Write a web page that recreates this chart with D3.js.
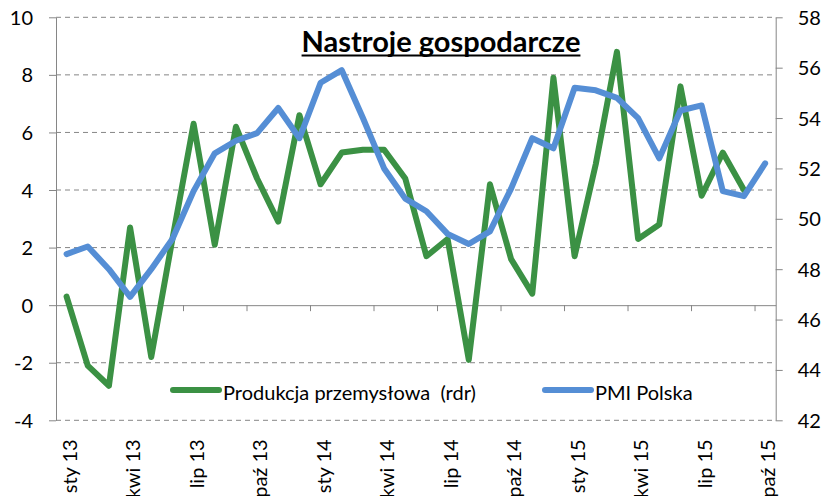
<!DOCTYPE html>
<html>
<head>
<meta charset="utf-8">
<script src="https://cdn.jsdelivr.net/npm/d3@7"></script>
<style>
  body { margin: 0; background: #fff; }
  svg { display: block; font-family: Lato, "Open Sans", sans-serif; }
</style>
</head>
<body>
<div id="chart"></div>
<script>
const months = [
  "sty 13", "lut 13", "mar 13", "kwi 13", "maj 13", "cze 13", "lip 13", "sie 13", "wrz 13", "paź 13", "lis 13", "gru 13",
  "sty 14", "lut 14", "mar 14", "kwi 14", "maj 14", "cze 14", "lip 14", "sie 14", "wrz 14", "paź 14", "lis 14", "gru 14",
  "sty 15", "lut 15", "mar 15", "kwi 15", "maj 15", "cze 15", "lip 15", "sie 15", "wrz 15", "paź 15",
];
// produkcja przemyslowa r/r (lewa os), brak danych za paź 15
const production = [
  0.3, -2.1, -2.8, 2.7, -1.8, 2.3, 6.3, 2.1, 6.2, 4.4, 2.9, 6.6,
  4.2, 5.3, 5.4, 5.4, 4.4, 1.7, 2.3, -1.9, 4.2, 1.6, 0.4, 7.9,
  1.7, 4.9, 8.8, 2.3, 2.8, 7.6, 3.8, 5.3, 4.0,
];
// PMI (prawa os)
const pmi = [
  48.6, 48.9, 48.0, 46.9, 48.0, 49.2, 51.1, 52.6, 53.1, 53.4, 54.4, 53.2,
  55.4, 55.9, 54.0, 52.0, 50.8, 50.3, 49.4, 49.0, 49.5, 51.2, 53.2, 52.8,
  55.2, 55.1, 54.8, 54.0, 52.4, 54.3, 54.5, 51.1, 50.9, 52.2,
];
const leftTicks = [-4, -2, 0, 2, 4, 6, 8, 10];
const rightTicks = [42, 44, 46, 48, 50, 52, 54, 56, 58];
const labelMonths = ["sty 13", "kwi 13", "lip 13", "paź 13", "sty 14", "kwi 14", "lip 14", "paź 14", "sty 15", "kwi 15", "lip 15", "paź 15"];

const width = 823;
const height = 496;
const plot = { left: 56, right: 775.7, top: 17.3, bottom: 420.3 };
const green = "#3b9144";
const blue = "#558ed5";
const axisGrey = "#868686";

const svg = d3
  .select("#chart")
  .append("svg")
  .attr("width", width)
  .attr("height", height);

const x = d3
  .scaleBand()
  .domain(months)
  .range([plot.left, plot.right])
  .padding(0);
// same span, counted in months, for the tick marks between categories
const xMonths = d3
  .scaleLinear()
  .domain([0, months.length])
  .range([plot.left, plot.right]);
const yLeft = d3.scaleLinear().domain([-4, 10]).range([plot.bottom, plot.top]);
const yRight = d3.scaleLinear().domain([42, 58]).range([plot.bottom, plot.top]);

const cx = (i) => x(months[i]) + x.bandwidth() / 2;
// excel style: plain hyphen for negatives
const plain = (d) => String(d);

// grid
svg
  .append("g")
  .selectAll("line")
  .data(leftTicks.filter((d) => d !== 0))
  .enter()
  .append("line")
  .attr("x1", plot.left)
  .attr("x2", plot.right)
  .attr("y1", (d) => yLeft(d))
  .attr("y2", (d) => yLeft(d))
  .attr("stroke", axisGrey)
  .attr("stroke-width", 1)
  .attr("stroke-dasharray", "5,4");

const styleAxis = (g) => {
  g.selectAll(".domain").attr("stroke", axisGrey);
  g.selectAll(".tick line").attr("stroke", axisGrey);
  g.selectAll("text")
    .attr("fill", "#000")
    .style("font-size", "20px")
    .style("font-family", "Lato, sans-serif");
};

// left axis
svg
  .append("g")
  .attr("transform", `translate(${plot.left},0)`)
  .call(
    d3.axisLeft(yLeft).tickValues(leftTicks).tickFormat(plain).tickSize(7).tickSizeOuter(0).tickPadding(16)
  )
  .call(styleAxis)
  .call((g) => g.selectAll("text").attr("dy", "0.35em"));

// right axis
svg
  .append("g")
  .attr("transform", `translate(${plot.right},0)`)
  .call(
    d3.axisRight(yRight).tickValues(rightTicks).tickFormat(plain).tickSize(7).tickSizeOuter(0).tickPadding(15)
  )
  .call(styleAxis)
  .call((g) => g.selectAll("text").attr("dy", "0.35em"));

// category axis through zero
svg
  .append("g")
  .attr("transform", `translate(0,${yLeft(0)})`)
  .call(
    d3
      .axisBottom(xMonths)
      .tickValues(d3.range(3, months.length, 3))
      .tickSize(6)
      .tickSizeOuter(0)
      .tickFormat("")
  )
  .call(styleAxis);

// month labels below the plot
svg
  .append("g")
  .attr("transform", `translate(0,${plot.bottom})`)
  .call(d3.axisBottom(x).tickValues(labelMonths).tickSize(0).tickSizeOuter(0))
  .call(styleAxis)
  .call((g) => g.select(".domain").remove())
  .call((g) =>
    g
      .selectAll("text")
      .attr("transform", "rotate(-90)")
      .attr("text-anchor", "end")
      .attr("x", -19)
      .attr("y", 0)
      .attr("dy", "0.5em")
  );

// series
const lineLeft = d3
  .line()
  .x((d, i) => cx(i))
  .y((d) => yLeft(d));
const lineRight = d3
  .line()
  .x((d, i) => cx(i))
  .y((d) => yRight(d));

svg
  .append("path")
  .datum(production)
  .attr("d", lineLeft)
  .attr("fill", "none")
  .attr("stroke", green)
  .attr("stroke-width", 6)
  .attr("stroke-linejoin", "round")
  .attr("stroke-linecap", "round");

svg
  .append("path")
  .datum(pmi)
  .attr("d", lineRight)
  .attr("fill", "none")
  .attr("stroke", blue)
  .attr("stroke-width", 6)
  .attr("stroke-linejoin", "round")
  .attr("stroke-linecap", "round");

// title
const title = svg
  .append("text")
  .attr("x", 441)
  .attr("y", 52)
  .attr("text-anchor", "middle")
  .style("font-size", "29px")
  .style("font-weight", "bold")
  .text("Nastroje gospodarcze");
const tw = title.node().getComputedTextLength();
svg
  .append("line")
  .attr("x1", 441 - tw / 2)
  .attr("x2", 441 + tw / 2)
  .attr("y1", 55.5)
  .attr("y2", 55.5)
  .attr("stroke", "#000")
  .attr("stroke-width", 2);

// legend
const legendItems = [
  { name: "Produkcja przemysłowa  (rdr)", color: green, x: 173 },
  { name: "PMI Polska", color: blue, x: 545 },
];
const legend = svg
  .append("g")
  .selectAll("g")
  .data(legendItems)
  .enter()
  .append("g")
  .attr("transform", (d) => `translate(${d.x},390)`);
legend
  .append("line")
  .attr("x1", 0)
  .attr("x2", 46)
  .attr("stroke", (d) => d.color)
  .attr("stroke-width", 6)
  .attr("stroke-linecap", "round");
legend
  .append("text")
  .attr("x", 50)
  .attr("y", 10)
  .style("font-size", "20px")
  .style("white-space", "pre")
  .text((d) => d.name);
</script>
</body>
</html>
